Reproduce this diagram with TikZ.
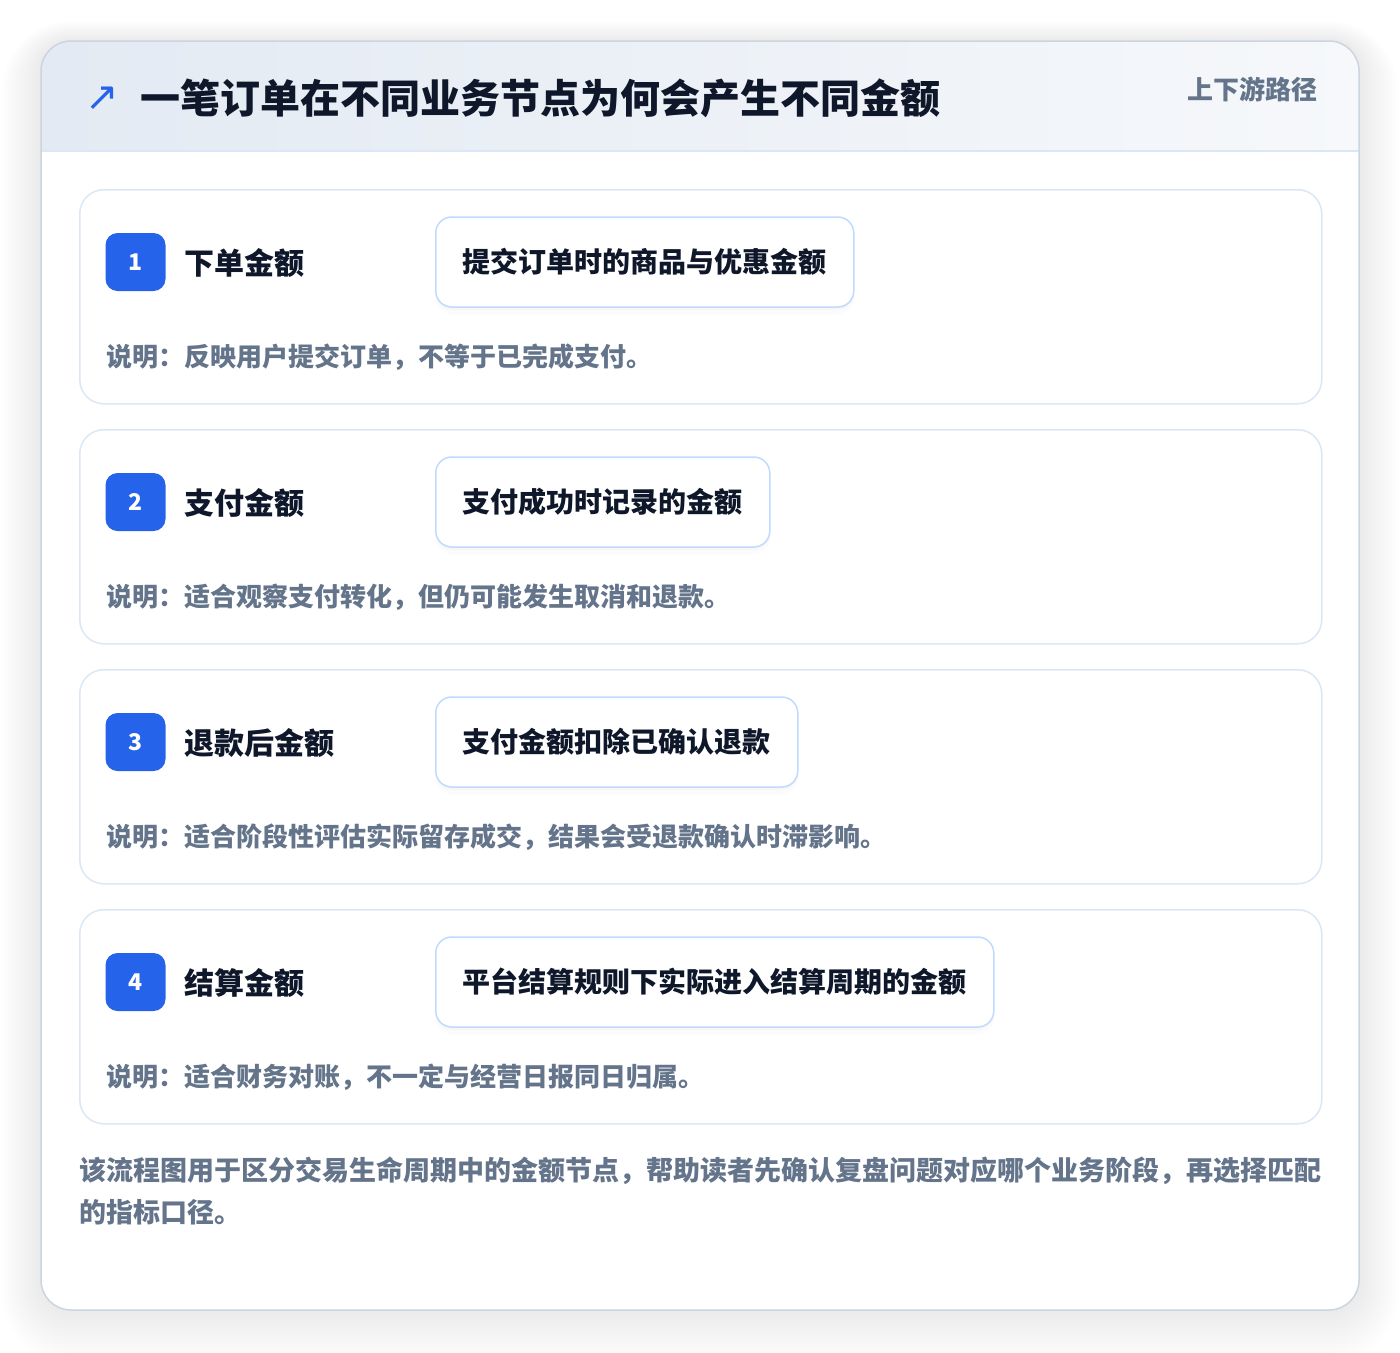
\documentclass[tikz,border=0pt]{standalone}
\usepackage{fontspec}
\setmainfont{Noto Sans CJK SC}
\newfontfamily\symfont{DejaVu Sans}
\usetikzlibrary{shadows}

\definecolor{ink}{HTML}{0F172A}
\definecolor{muted}{HTML}{64748B}
\definecolor{brand}{HTML}{2563EB}
\definecolor{outline}{HTML}{CBD5E1}
\definecolor{cardline}{HTML}{DCE7F5}
\definecolor{boxline}{HTML}{BFDBFE}
\definecolor{headleft}{HTML}{E3EAF3}
\definecolor{headright}{HTML}{F6F8FB}

\begin{document}
\begin{tikzpicture}[
			x = 1pt, y = -1pt,
			card/.style = {draw=cardline, line width=1.5pt, fill=white, rounded corners=24pt,
				minimum width=1242pt, minimum height=214pt, anchor=north west, inner sep=0pt},
			badge/.style = {fill=brand, rounded corners=12pt, minimum width=60pt, minimum height=58pt,
				inner sep=0pt, text=white, font=\fontsize{23}{25}\selectfont\bfseries},
			steptitle/.style = {anchor=west, inner sep=0pt, text=ink, font=\fontsize{30}{34}\selectfont\bfseries},
			defbox/.style = {draw=boxline, line width=1.5pt, fill=white, rounded corners=16pt,
				minimum height=90pt, inner xsep=27pt, anchor=west, text=ink,
				font=\fontsize{28}{32}\selectfont\bfseries,
				drop shadow={shadow xshift=0pt, shadow yshift=-3pt, opacity=0.035},
				drop shadow={shadow xshift=0pt, shadow yshift=-7pt, opacity=0.025}},
			note/.style = {anchor=west, inner sep=0pt, text=muted, font=\fontsize{26}{28}\selectfont\bfseries}]

			\useasboundingbox (0,0) rectangle (1400,1352);

			% outer card with a soft shadow
			\foreach \k in {2,4,...,40}
				\fill[black, opacity=0.005, rounded corners=30pt+\k pt]
					(41-\k,41-\k+\k/2) rectangle (1359+\k,1310+\k+\k/3);
			\fill[white, rounded corners=30pt] (41,41) rectangle (1359,1310);
			\begin{scope}
				\clip[rounded corners=30pt] (41,41) rectangle (1359,1310);
				\shade[left color=headleft, right color=headright] (41,41) rectangle (1359,151);
			\end{scope}
			\draw[cardline, line width=1.5pt] (41,151) -- (1359,151);
			\draw[outline, line width=1.5pt, rounded corners=30pt] (41,41) rectangle (1359,1310);

			% header
			\node[text=brand, font=\symfont\fontsize{40}{40}\selectfont] (icon) at (102,99) {↗};
			\node[anchor=west, inner sep=0pt, text=ink, font=\fontsize{40}{44}\selectfont\bfseries]
				(title) at (140,98) {一笔订单在不同业务节点为何会产生不同金额};
			\node[anchor=east, inner sep=0pt, text=muted, font=\fontsize{26}{30}\selectfont\bfseries]
				(tag) at (1318,89) {上下游路径};

			% steps
			\foreach \i/\name/\defn/\desc in {
				1/下单金额/提交订单时的商品与优惠金额/说明：反映用户提交订单，不等于已完成支付。,
				2/支付金额/支付成功时记录的金额/说明：适合观察支付转化，但仍可能发生取消和退款。,
				3/退款后金额/支付金额扣除已确认退款/说明：适合阶段性评估实际留存成交，结果会受退款确认时滞影响。,
				4/结算金额/平台结算规则下实际进入结算周期的金额/说明：适合财务对账，不一定与经营日报同日归属。}{
				\pgfmathsetmacro\top{189+240*(\i-1)}
				\node[card] (card\i) at (79,\top) {};
				\node[badge] (badge\i) at (135.5,\top+73) {\i};
				\node[steptitle] (name\i) at (184,\top+74) {\name};
				\node[defbox] (def\i) at (435,\top+73) {\defn};
				\node[note] (desc\i) at (106,\top+168) {\desc};
			}

			% footer
			\node[anchor=north west, inner sep=0pt, align=left, text=muted,
				font=\fontsize{27}{42}\selectfont\bfseries] (summary) at (79,1157)
				{该流程图用于区分交易生命周期中的金额节点，帮助读者先确认复盘问题对应哪个业务阶段，再选择匹配\\的指标口径。};

		\end{tikzpicture}
\end{document}
